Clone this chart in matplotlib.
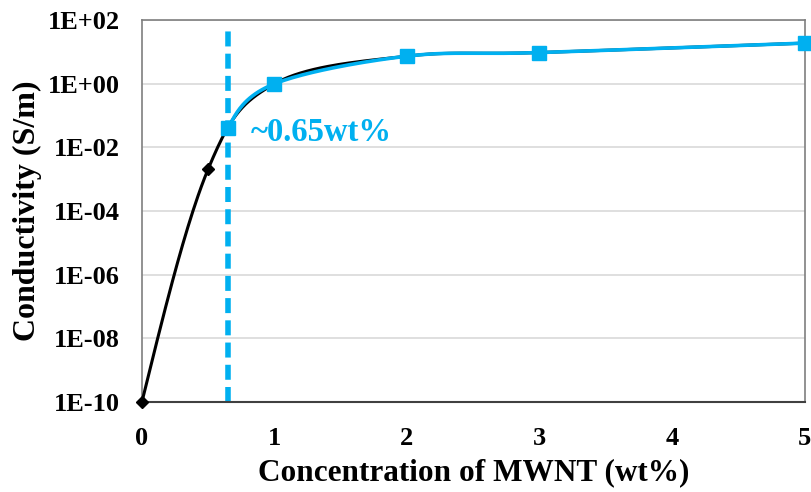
import numpy as np
import matplotlib
matplotlib.use("Agg")
import matplotlib.pyplot as plt

# Data
conc_black = [0.0, 0.5, 1.0, 2.0, 3.0, 5.0]
cond_black = [1e-10, 2.1e-3, 1.0, 7.4, 9.6, 19.0]
conc_blue = [0.65, 1.0, 2.0, 3.0, 5.0]
cond_blue = [4.0e-2, 1.0, 7.4, 9.6, 19.0]
threshold = 0.65
annot_text = "~0.65wt%"
yticks = [1e-10, 1e-8, 1e-6, 1e-4, 1e-2, 1e0, 1e2]
ytick_labels = ["1E-10", "1E-08", "1E-06", "1E-04", "1E-02", "1E+00", "1E+02"]
xticks = [0, 1, 2, 3, 4, 5]

BLUE = "#00B0F0"


def smooth(xs, ys, n=40):
    """Smoothed (Excel-like Bezier) rendering of a line through the points, in (x, log10 y)."""
    x = np.asarray(xs, float)
    ly = np.log10(np.asarray(ys, float))
    px, py = [], []
    m = len(x)
    t = np.linspace(0, 1, n)
    k = 1.0 / 6.0
    for i in range(m - 1):
        x1, y1 = x[i], ly[i]
        x2, y2 = x[i + 1], ly[i + 1]
        if i > 0:
            c1x, c1y = x1 + k * (x2 - x[i - 1]), y1 + k * (y2 - ly[i - 1])
        else:
            c1x = c1y = None
        if i + 2 < m:
            c2x, c2y = x2 - k * (x[i + 2] - x1), y2 - k * (ly[i + 2] - y1)
        else:
            c2x = c2y = None
        if c1x is None and c2x is not None:
            c1x, c1y = x1 + 0.5 * (c2x - x1), y1 + 0.5 * (c2y - y1)
        if c2x is None and c1x is not None:
            c2x, c2y = x2 + 0.5 * (c1x - x2), y2 + 0.5 * (c1y - y2)
        if c1x is None:
            c1x, c1y, c2x, c2y = x1, y1, x2, y2
        bx = (1 - t) ** 3 * x1 + 3 * (1 - t) ** 2 * t * c1x + 3 * (1 - t) * t ** 2 * c2x + t ** 3 * x2
        by = (1 - t) ** 3 * y1 + 3 * (1 - t) ** 2 * t * c1y + 3 * (1 - t) * t ** 2 * c2y + t ** 3 * y2
        px.extend(bx)
        py.extend(by)
    return np.array(px), 10 ** np.array(py)


plt.rcParams["font.family"] = ["Liberation Serif", "DejaVu Serif"]
plt.rcParams["font.weight"] = "bold"

fig = plt.figure(figsize=(8.11, 4.92), dpi=100)
ax = fig.add_axes([0.175, 0.183, 0.817, 0.776])
ax.set_yscale("log")
ax.set_xlim(0, 5)
ax.set_ylim(1e-10, 1e2)

ax.set_yticks(yticks)
ax.set_yticklabels(ytick_labels)
ax.minorticks_off()
ax.set_xticks(xticks)
ax.set_xticklabels([str(v) for v in xticks])
ax.tick_params(axis="y", length=0, labelsize=19, pad=16)
ax.tick_params(axis="x", length=0, labelsize=19, pad=18)
for lab in ax.get_xticklabels() + ax.get_yticklabels():
    lab.set_fontweight("bold")

ax.grid(axis="y", color="#D9D9D9", linewidth=1.2)
ax.set_axisbelow(True)
for s in ["left", "right", "top"]:
    ax.spines[s].set_color("#7F7F7F")
    ax.spines[s].set_linewidth(1.2)
ax.spines["bottom"].set_color("#404040")
ax.spines["bottom"].set_linewidth(1.5)

bx, by = smooth(conc_black, cond_black)
ax.plot(bx, by, color="black", linewidth=2.2, zorder=3, clip_on=False)
ax.plot(conc_black, cond_black, linestyle="none", marker="D", color="black",
        markersize=6, zorder=4, clip_on=False)

ux, uy = smooth(conc_blue, cond_blue)
ax.plot(ux, uy, color=BLUE, linewidth=2.6, zorder=5, clip_on=False)
ax.plot(conc_blue, cond_blue, linestyle="none", marker="s", color=BLUE,
        markersize=9.5, zorder=6, clip_on=False)

ax.axvline(threshold, ymax=0.985, color=BLUE, linewidth=4, linestyle=(0, (2.7, 1.3)), zorder=2)

ax.text(0.82, 3.0e-2, annot_text, color=BLUE, fontsize=23.5, fontweight="bold",
        va="center", ha="left")

ax.set_xlabel("Concentration of MWNT (wt%)", fontsize=22.5, fontweight="bold", labelpad=6)
ax.set_ylabel("Conductivity (S/m)", fontsize=23, fontweight="bold", labelpad=4)

fig.savefig("out.png", dpi=100)
